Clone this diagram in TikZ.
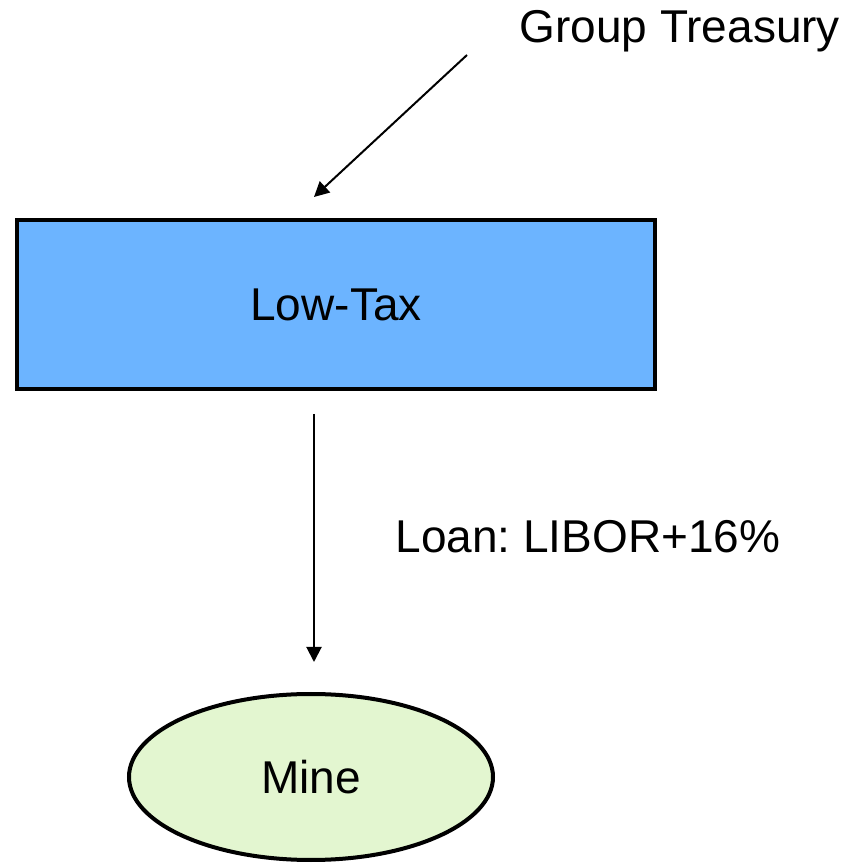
\documentclass[tikz,border=0pt]{standalone}
\usepackage{fontspec}
\setmainfont{Liberation Sans}
\usepackage{tikz}
\usetikzlibrary{
  arrows.meta,
  positioning,
  calc,
  shapes.geometric
}
\definecolor{taxblue}{RGB}{108,180,255}
\definecolor{minegreen}{RGB}{227,246,208}
\frenchspacing

\begin{document}
\begin{tikzpicture}[
        x=1pt, y=1pt,
        >={Triangle[length=15pt,width=15pt]},
        every node/.style={font=\fontsize{46}{55}\selectfont},
        entity/.style={draw, line width=4pt, fill=taxblue, inner sep=0pt,
            minimum width=638pt, minimum height=169pt},
        mineshape/.style={ellipse, draw, line width=4pt, fill=minegreen, inner sep=0pt,
            minimum width=364pt, minimum height=166pt},
        flow/.style={->, line width=2pt}
    ]
        \useasboundingbox (0,0) rectangle (854,863);
        % Entidades
        \node[anchor=base west] (treasury) at (516,820) {Group Treasury};
        \node[entity] (lowtax) at (336,558.5) {Low-Tax};
        \node[mineshape] (mine) at (311,86) {Mine};
        % Financiamento
        \coordinate (fundstart) at ([xshift=-49pt,yshift=-12pt]treasury.base west);
        \draw[flow] (fundstart) -- ([xshift=-22pt,yshift=21pt]lowtax.north);
        % Empréstimo
        \draw[flow] ([xshift=-22pt,yshift=-23pt]lowtax.south) -- ([xshift=3pt,yshift=30pt]mine.north);
        \node[anchor=base west] (loan) at (392,310) {Loan: LIBOR+16\%};
    \end{tikzpicture}
\end{document}
